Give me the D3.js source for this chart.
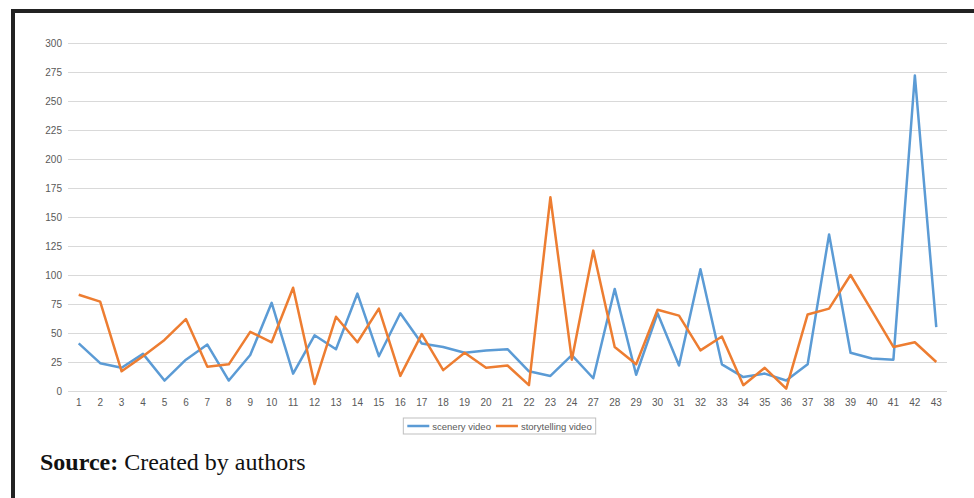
<!DOCTYPE html>
<html>
<head>
<meta charset="utf-8">
<script src="https://cdn.jsdelivr.net/npm/d3@7"></script>
<style>
  html, body { margin: 0; padding: 0; background: #fff; }
  svg { display: block; }
  .axis text { font-family: "Liberation Sans Narrow", "Liberation Sans", Arial, sans-serif; font-size: 10px; fill: #595959; }
</style>
</head>
<body>
<svg id="chart" width="974" height="498"></svg>
<script>
// Video numbers (25 and 26 are not in the series)
const categories = ["1","2","3","4","5","6","7","8","9","10","11","12","13","14","15","16","17","18","19","20","21","22","23","24","27","28","29","30","31","32","33","34","35","36","37","38","39","40","41","42","43"];
const sceneryVideo = [41,24,20,32,9,27,40,9,31,76,15,48,36,84,30,67,41,38,33,35,36,17,13,31,11,88,14,67,22,105,23,12,15,9,23,135,33,28,27,272,55];
const storytellingVideo = [83,77,17,30,44,62,21,23,51,42,89,6,64,42,71,13,49,18,33,20,22,5,167,27,121,38,23,70,65,35,47,5,20,2,66,71,100,69,38,42,25];
const yTicks = [0,25,50,75,100,125,150,175,200,225,250,275,300];
const seriesNames = ["scenery video", "storytelling video"];
const seriesColors = ["#5B9BD5", "#ED7D31"];

const svg = d3.select("#chart");
svg.append("rect").attr("width", 974).attr("height", 498).attr("fill", "#fff");

// page frame
svg.append("rect").attr("x", 11).attr("y", 9).attr("width", 963).attr("height", 4).attr("fill", "#222");
svg.append("rect").attr("x", 11).attr("y", 9).attr("width", 4).attr("height", 489).attr("fill", "#222");

const plot = { left: 68, right: 947, top: 43, bottom: 391 };

const x = d3.scaleBand().domain(categories).range([plot.left, plot.right]).paddingInner(0).paddingOuter(0);
const y = d3.scaleLinear().domain([0, 300]).range([plot.bottom, plot.top]);
const cx = c => x(c) + x.bandwidth() / 2;

// horizontal gridlines and value labels
const yAxis = svg.append("g").attr("class", "axis")
  .attr("transform", `translate(${plot.left},0)`)
  .call(d3.axisLeft(y).tickValues(yTicks).tickSize(-(plot.right - plot.left)).tickPadding(6).tickFormat(d3.format("d")));
yAxis.select(".domain").remove();
yAxis.selectAll(".tick line").attr("stroke", "#d9d9d9").attr("stroke-width", 1);

// category labels
const xAxis = svg.append("g").attr("class", "axis")
  .attr("transform", `translate(0,${plot.bottom})`)
  .call(d3.axisBottom(x).tickSize(0).tickPadding(8));
xAxis.select(".domain").remove();

// series lines
const seriesData = [sceneryVideo, storytellingVideo];
const line = d3.line().x((d, i) => cx(categories[i])).y(d => y(d));
seriesData.forEach((vals, k) => {
  svg.append("path")
    .datum(vals)
    .attr("d", line)
    .attr("fill", "none")
    .attr("stroke", seriesColors[k])
    .attr("stroke-width", 2.5)
    .attr("stroke-linejoin", "round");
});

// legend: entries laid out from their measured text widths, box centred on them
const legend = svg.append("g").attr("transform", "translate(0,418)");
const legendBox = legend.append("rect").attr("y", 0).attr("height", 16)
  .attr("fill", "#fff").attr("stroke", "#bfbfbf").attr("stroke-width", 1);
let cursor = 0;
const entries = legend.append("g");
seriesNames.forEach((name, k) => {
  const g = entries.append("g").attr("transform", `translate(${cursor},8)`);
  g.append("line").attr("x1", 0).attr("x2", 22).attr("y1", 0).attr("y2", 0)
    .attr("stroke", seriesColors[k]).attr("stroke-width", 2.5);
  const t = g.append("text").attr("x", 25).attr("y", 3.5)
    .attr("font-family", "\"Liberation Sans Narrow\", \"Liberation Sans\", Arial, sans-serif")
    .attr("font-size", 9.5).attr("fill", "#595959").text(name);
  cursor += 25 + t.node().getComputedTextLength() + 5;
});
const legendWidth = cursor - 5 + 8;
const legendLeft = 499.5 - legendWidth / 2;
legendBox.attr("x", legendLeft).attr("width", legendWidth);
entries.attr("transform", `translate(${legendLeft + 4},0)`);

// source note
const src = svg.append("text").attr("x", 40).attr("y", 470)
  .attr("font-family", "\"Liberation Serif\", \"Times New Roman\", serif")
  .attr("font-size", 24).attr("fill", "#111");
src.append("tspan").attr("font-weight", "bold").text("Source:");
src.append("tspan").text(" Created by authors");
</script>
</body>
</html>
